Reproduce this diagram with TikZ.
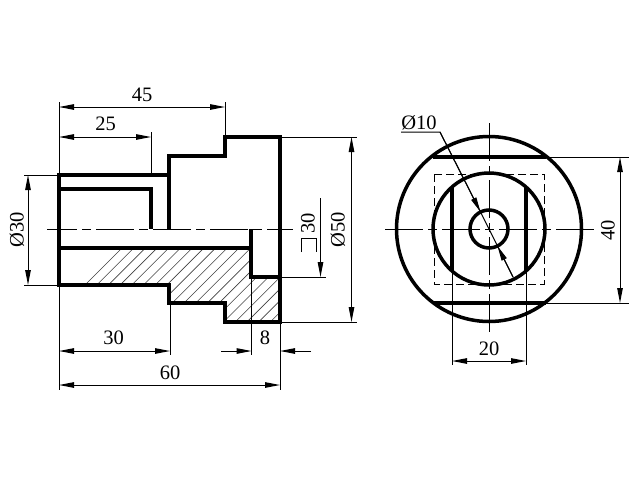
\documentclass[tikz,border=0pt]{standalone}
\usepackage{fontspec}
\setmainfont{Liberation Serif}
\usetikzlibrary{arrows.meta}
\tikzset{
  thickline/.style={line width=3.5pt,line join=miter,line cap=butt},
  thinline/.style={line width=1pt},
  hatchline/.style={line width=0.6pt,black!75},
  centerline/.style={line width=1pt,dash pattern=on 38pt off 5pt on 9pt off 5pt},
  dashedbox/.style={line width=0.9pt,dash pattern=on 8pt off 4pt},
  dimtip/.tip={Triangle[length=15pt,width=5.5pt]},
  dimline/.style={line width=1pt},
  label/.style={font=\fontsize{20.5}{22}\selectfont,inner sep=0pt},
  vlabel/.style={label,rotate=90},
}
\begin{document}
\begin{tikzpicture}[x=1pt,y=-1pt]
\useasboundingbox (0,0) rectangle (640,480);
% hatching
\begin{scope}
\clip (59,248) -- (251,248) -- (251,277) -- (280,277) -- (280,322) -- (225,322) -- (225,303) -- (169,303) -- (169,285) -- (59,285) -- cycle;
\foreach \i in {0,...,34} { \draw[hatchline] (40+11.7*\i,330) -- (40+11.7*\i+90,240); }
\end{scope}
% left view centre line
\draw[centerline,dash phase=8pt] (47,229) -- (293,229);
% extension lines
\draw[thinline] (59,102) -- (59,175) (225,102) -- (225,137) (151,132) -- (151,175);
\draw[thinline] (24,175) -- (59,175) (24,285) -- (59,285);
\draw[thinline] (59,285) -- (59,390) (170,303) -- (170,355) (280,322) -- (280,390) (251.5,277) -- (251.5,355);
\draw[thinline] (280,137) -- (357,137) (280,322) -- (357,322) (280,277) -- (326,277);
% left view outline
\draw[thickline] (59,175) -- (169,175) (59,189) -- (151,189) (151,187.25) -- (151,229);
\draw[thickline] (169,229) -- (169,156) -- (225,156) -- (225,137) -- (280,137) -- (280,322) -- (225,322) -- (225,303) -- (169,303) -- (169,285) -- (59,285) -- (59,175) -- (70,175);
\draw[thickline] (59,248) -- (251,248);
\draw[thickline] (251,229) -- (251,277) -- (280,277);
% left view dimensions
\draw[dimline,{dimtip}-{dimtip}] (59,107) -- (225,107);
\draw[dimline,{dimtip}-{dimtip}] (59,137) -- (151,137);
\draw[dimline,{dimtip}-{dimtip}] (59,351) -- (170,351);
\draw[dimline,{dimtip}-{dimtip}] (59,385) -- (280,385);
\draw[dimline,-{dimtip}] (221,351) -- (251.5,351);
\draw[dimline,-{dimtip}] (311,351) -- (280,351);
\draw[dimline,{dimtip}-{dimtip}] (28,175) -- (28,285);
\draw[dimline,{dimtip}-{dimtip}] (351.5,137) -- (351.5,322);
\draw[dimline,-{dimtip}] (320.5,198) -- (320.5,277);
\draw[thinline] (301,252) -- (301,238.5) -- (316,238.5) -- (316,252);
\node[label] (d45) at (142,95) {45};
\node[label] (d25) at (105.5,124) {25};
\node[label] (d30a) at (113.7,338) {30};
\node[label] (d60) at (170,373) {60};
\node[label] (d8) at (265,338) {8};
\node[vlabel] (d30b) at (17,230) {Ø30};
\node[vlabel] (d30c) at (308,223) {30};
\node[vlabel] (d50) at (338,230) {Ø50};
% right view
\draw[centerline] (385,229) -- (595,229);
\draw[centerline] (489,123) -- (489,335);
\draw[dashedbox] (434,174) rectangle (544,284);
\draw[thinline] (545,157) -- (629,157) (545,303) -- (629,303);
\draw[thinline] (452,271) -- (452,365) (526,271) -- (526,365);
\draw[thickline] (489,229) circle[radius=92.5];
\draw[thickline] (489,229) circle[radius=56];
\draw[thickline] (489,229) circle[radius=19];
\draw[thickline] (432.5,157) -- (545.5,157) (432.5,303) -- (545.5,303);
\draw[thickline] (452,187) -- (452,271) (526,187) -- (526,271);
\draw[dimline,{dimtip}-{dimtip}] (620,157) -- (620,303);
\draw[dimline,{dimtip}-{dimtip}] (452,361) -- (526,361);
\coordinate (lead0) at (401,132);
\coordinate (lead1) at (440,132);
\coordinate (tipa) at (480.5,212);
\coordinate (tipb) at (497.5,246);
\coordinate (leadend) at (513,277);
\draw[dimline] (lead0) -- (lead1) -- (tipa) -- (tipb) -- (leadend);
\draw[dimline,-{dimtip}] (lead1) -- (tipa);
\draw[dimline,-{dimtip}] (leadend) -- (tipb);
\node[label] (d10) at (419,123) {Ø10};
\node[label] (d20) at (489,349) {20};
\node[vlabel] (d40) at (608,230) {40};
\end{tikzpicture}
\end{document}
